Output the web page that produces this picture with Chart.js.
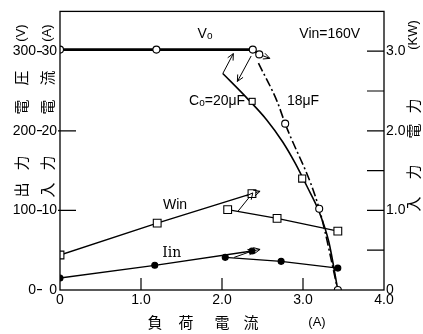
<!DOCTYPE html>
<html>
<head>
<meta charset="utf-8">
<script src="https://cdn.jsdelivr.net/npm/chart.js@4"></script>
<style>
  html, body { margin: 0; padding: 0; background: #fff; }
</style>
</head>
<body>
<canvas id="chart" width="423" height="334"></canvas>
<script>
// axis ticks
const xTicks = [0, 1, 2, 3, 4];
const vTicks = [0, 100, 200, 300];
const aTicks = [0, 10, 20, 30];
const wTicks = [0, 1, 2, 3];
const xMinor = [1, 2, 3];
const aMinor = [10, 20];
const wMinor = [0.5, 1, 1.5, 2, 2.5, 3];

// output voltage Vo (V), upper branch
const voX = [0, 1.19, 2.38, 2.46];
const voV = [302, 302, 302, 296];
// Co = 20uF drop (traced curve)
const c20X = [2.01, 2.3, 2.55, 2.75, 2.9, 3.05, 3.2, 3.32, 3.43];
const c20V = [272, 242, 214, 186, 160, 130, 98, 60, 0];
const c20MarkX = [2.99];
const c20MarkV = [140];
// 18uF drop
const c18X = [2.45, 2.68, 2.78, 3.2, 3.43];
const c18V = [285, 237, 209, 102, 0];
const c18MarkX = [2.78, 3.2, 3.43];
const c18MarkV = [209, 102, 0];
// input power Win (kW)
const winUpX = [0, 1.2, 2.37];
const winUp = [0.44, 0.84, 1.21];
const winDnX = [2.07, 2.68, 3.43];
const winDn = [1.01, 0.90, 0.74];
// input current Iin (A)
const iinUpX = [0, 1.17, 2.37];
const iinUp = [1.5, 3.1, 4.9];
const iinDnX = [2.04, 2.73, 3.43];
const iinDn = [4.1, 3.6, 2.75];
// hysteresis arrows [x0, y0, x1, y1]
const voArrows = [[2.46, 296, 2.59, 291], [2.01, 272, 2.14, 297], [2.36, 294, 2.19, 262]];
const winArrows = [[2.37, 1.21, 2.47, 1.24], [2.19, 0.98, 2.38, 1.22]];
const iinArrows = [[2.37, 4.9, 2.47, 5.1], [2.15, 4.1, 2.4, 5.0]];

const LATIN = '"Liberation Sans", Arial, sans-serif';
const CJK = '"Noto Sans CJK JP", sans-serif';

function pts(xs, ys) {
    return xs.map((x, i) => ({ x: x, y: ys[i] }));
}

function lineSet(data, axis, extra) {
    return Object.assign({
        data: data,
        yAxisID: axis,
        borderColor: '#000',
        borderWidth: 1.4,
        pointRadius: 0,
        fill: false,
        order: 1
    }, extra || {});
}

function markSet(data, axis, style, radius, filled) {
    return {
        data: data,
        yAxisID: axis,
        showLine: false,
        pointStyle: style,
        pointRadius: radius,
        pointBorderWidth: 1.1,
        pointBorderColor: '#000',
        pointBackgroundColor: filled ? '#000' : '#fff',
        order: 0
    };
}

function arrowSets(list, axis) {
    return list.map(a => lineSet([{ x: a[0], y: a[1] }, { x: a[2], y: a[3] }], axis,
        { borderWidth: 1, arrow: true }));
}

const datasets = [
    markSet(pts(voX, voV), 'yV', 'circle', 3.5, false),
    markSet(pts(c20MarkX, c20MarkV), 'yV', 'rect', 5, false),
    markSet(pts(c18MarkX, c18MarkV), 'yV', 'circle', 3.5, false),
    markSet(pts(winUpX, winUp), 'yW', 'rect', 5.5, false),
    markSet(pts(winDnX, winDn), 'yW', 'rect', 5.5, false),
    markSet(pts(iinUpX, iinUp), 'yA', 'circle', 3, true),
    markSet(pts(iinDnX, iinDn), 'yA', 'circle', 3, true),
    lineSet(pts(voX, voV), 'yV', { borderWidth: 2.6 }),
    lineSet(pts(c20X, c20V), 'yV', { borderWidth: 1.6, cubicInterpolationMode: 'monotone' }),
    lineSet(pts(c18X, c18V), 'yV', { borderWidth: 1.6, borderDash: [9, 3, 2, 3], cubicInterpolationMode: 'monotone' }),
    lineSet(pts(winUpX, winUp), 'yW'),
    lineSet(pts(winDnX, winDn), 'yW'),
    lineSet(pts(iinUpX, iinUp), 'yA'),
    lineSet(pts(iinDnX, iinDn), 'yA')
].concat(arrowSets(voArrows, 'yV'), arrowSets(winArrows, 'yW'), arrowSets(iinArrows, 'yA'));

// frame, inward ticks, arrow heads and all the free text
const decorPlugin = {
    id: 'decor',
    afterDraw(chart) {
        const ctx = chart.ctx;
        const area = chart.chartArea;
        const s = chart.scales;
        ctx.save();
        ctx.strokeStyle = '#000';
        ctx.fillStyle = '#000';
        ctx.lineWidth = 1.3;
        ctx.strokeRect(area.left, area.top, area.right - area.left, area.bottom - area.top);

        ctx.lineWidth = 1.2;
        ctx.beginPath();
        xMinor.forEach(v => {
            const px = s.x.getPixelForValue(v);
            ctx.moveTo(px, area.bottom);
            ctx.lineTo(px, area.bottom - 12);
        });
        aMinor.forEach(v => {
            const py = s.yA.getPixelForValue(v);
            ctx.moveTo(area.left - 2, py);
            ctx.lineTo(area.left + 16, py);
        });
        wMinor.forEach(v => {
            const py = s.yW.getPixelForValue(v);
            ctx.moveTo(area.right, py);
            ctx.lineTo(area.right - 17, py);
        });
        ctx.stroke();

        // arrow heads
        ctx.lineWidth = 1;
        chart.data.datasets.forEach((ds, i) => {
            if (!ds.arrow) return;
            const m = chart.getDatasetMeta(i).data;
            const p0 = m[0], p1 = m[1];
            const ang = Math.atan2(p1.y - p0.y, p1.x - p0.x);
            ctx.beginPath();
            [-0.45, 0.45].forEach(d => {
                ctx.moveTo(p1.x, p1.y);
                ctx.lineTo(p1.x - 7 * Math.cos(ang + d), p1.y - 7 * Math.sin(ang + d));
            });
            ctx.stroke();
        });

        // labels inside the plot
        ctx.textBaseline = 'middle';
        function sub(x, y, big, small, rest, align) {
            ctx.font = '14px ' + LATIN;
            const w1 = ctx.measureText(big).width;
            ctx.font = '10px ' + LATIN;
            const w2 = ctx.measureText(small).width;
            ctx.font = '14px ' + LATIN;
            const w3 = ctx.measureText(rest).width;
            let left = align === 'center' ? x - (w1 + w2 + w3) / 2 : x;
            ctx.textAlign = 'left';
            ctx.fillText(big, left, y);
            ctx.font = '10px ' + LATIN;
            ctx.fillText(small, left + w1, y + 2);
            ctx.font = '14px ' + LATIN;
            ctx.fillText(rest, left + w1 + w2, y);
            return left + w1 + w2 + w3;
        }
        sub(s.x.getPixelForValue(1.79), s.yV.getPixelForValue(321), 'V', 'o', '', 'center');
        const endCo = sub(s.x.getPixelForValue(1.94), s.yV.getPixelForValue(237), 'C', 'o', '=20μF', 'center');
        // square key next to the 20uF label
        ctx.lineWidth = 1.1;
        ctx.fillStyle = '#fff';
        ctx.fillRect(endCo + 4, s.yV.getPixelForValue(237) - 3, 6, 6);
        ctx.strokeRect(endCo + 4, s.yV.getPixelForValue(237) - 3, 6, 6);
        ctx.fillStyle = '#000';
        ctx.font = '14px ' + LATIN;
        ctx.textAlign = 'center';
        ctx.fillText('Vin=160V', s.x.getPixelForValue(3.33), s.yV.getPixelForValue(321));
        ctx.fillText('18μF', s.x.getPixelForValue(3.0), s.yV.getPixelForValue(237));
        ctx.fillText('Win', s.x.getPixelForValue(1.42), s.yW.getPixelForValue(1.06));
        ctx.font = '14px "DejaVu Serif", serif';
        ctx.fillText('Iin', s.x.getPixelForValue(1.38), s.yA.getPixelForValue(4.6));

        // rotated axis titles, one glyph at a time
        function rot(text, x, y, font) {
            ctx.save();
            ctx.translate(x, y);
            ctx.rotate(-Math.PI / 2);
            ctx.font = font;
            ctx.textAlign = 'center';
            ctx.fillText(text, 0, 0);
            ctx.restore();
        }
        const cj = '15px ' + CJK;
        const lt = '13px ' + LATIN;
        [['出', 190], ['力', 163], ['電', 107], ['圧', 78]].forEach(c => rot(c[0], 21, c[1], cj));
        rot('(V)', 21, 33, lt);
        [['入', 190], ['力', 163], ['電', 107], ['流', 78]].forEach(c => rot(c[0], 47, c[1], cj));
        rot('(A)', 47, 33, lt);
        [['入', 204], ['力', 172], ['電', 131], ['力', 106]].forEach(c => rot(c[0], 413, c[1], cj));
        rot('(KW)', 413, 35, lt);

        // x title
        ctx.font = cj;
        ctx.textAlign = 'center';
        [['負', 155], ['荷', 186], ['電', 222], ['流', 251]].forEach(c => ctx.fillText(c[0], c[1], 322));
        ctx.font = '13px ' + LATIN;
        ctx.fillText('(A)', 317, 322);
        ctx.restore();
    }
};

function fixedTicks(list) {
    return scale => { scale.ticks = list.map(v => ({ value: v })); };
}

const tickFont = { family: LATIN, size: 14 };

new Chart(document.getElementById('chart').getContext('2d'), {
    type: 'line',
    data: { datasets: datasets },
    options: {
        responsive: false,
        animation: false,
        devicePixelRatio: 1,
        layout: { padding: { top: 10, left: 0, right: 0, bottom: 0 } },
        plugins: { legend: { display: false }, tooltip: { enabled: false } },
        scales: {
            x: {
                type: 'linear', min: 0, max: 4,
                afterBuildTicks: fixedTicks(xTicks),
                ticks: { color: '#000', font: tickFont, padding: 2, maxRotation: 0,
                    callback: v => v === 0 ? '0' : v.toFixed(1) },
                grid: { display: false, drawTicks: false },
                border: { display: false },
                afterFit: sc => { sc.height = 44; }
            },
            yV: {
                type: 'linear', position: 'left', weight: 1, min: 0, max: 350,
                afterBuildTicks: fixedTicks(vTicks),
                ticks: { color: '#000', font: tickFont, padding: 1 },
                grid: { display: true, drawOnChartArea: false, drawTicks: true, tickLength: 5, color: '#000', lineWidth: 1.2 },
                border: { display: false },
                afterFit: sc => { sc.width = 42; }
            },
            yA: {
                type: 'linear', position: 'left', weight: 0, min: 0, max: 35,
                afterBuildTicks: fixedTicks(aTicks),
                ticks: { color: '#000', font: tickFont, padding: 3 },
                grid: { display: false, drawTicks: false },
                border: { display: false },
                afterFit: sc => { sc.width = 18; }
            },
            yW: {
                type: 'linear', position: 'right', min: 0, max: 3.5,
                afterBuildTicks: fixedTicks(wTicks),
                ticks: { color: '#000', font: tickFont, padding: 2,
                    callback: v => v === 0 ? '0' : v.toFixed(1) },
                grid: { display: false, drawTicks: false },
                border: { display: false },
                afterFit: sc => { sc.width = 39; }
            }
        }
    },
    plugins: [decorPlugin]
});
</script>
</body>
</html>
